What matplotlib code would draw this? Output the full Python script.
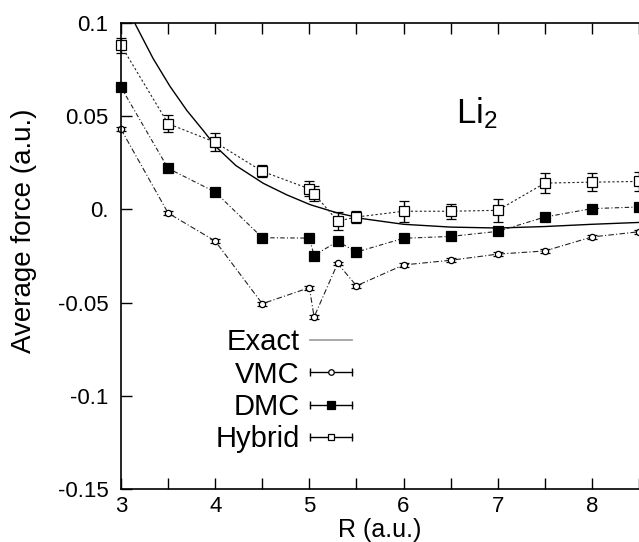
import numpy as np
import matplotlib
matplotlib.use('Agg')
import matplotlib.pyplot as plt
from matplotlib.lines import Line2D
from matplotlib.legend_handler import HandlerLine2D, HandlerTuple

plt.rcParams['font.family'] = ['Liberation Sans', 'DejaVu Sans']
plt.rcParams['mathtext.fontset'] = 'custom'
plt.rcParams['mathtext.rm'] = 'Liberation Sans'
plt.rcParams['mathtext.it'] = 'Liberation Sans:italic'

# separations (a.u.)
r_pts = [3.0, 3.5, 4.0, 4.5, 5.0, 5.05, 5.3, 5.5, 6.0, 6.5, 7.0, 7.5, 8.0, 8.5]

vmc = [0.043, -0.002, -0.017, -0.0506, -0.042, -0.0577, -0.029, -0.041,
       -0.0298, -0.0273, -0.024, -0.0223, -0.0148, -0.012]
vmc_err = [0.001] * len(r_pts)

dmc = [0.0655, 0.022, 0.0093, -0.0152, -0.0154, -0.0248, -0.0171, -0.0229,
       -0.0155, -0.0145, -0.0118, -0.0041, 0.0004, 0.0013]
dmc_err = [0.0018, 0.0015, 0.0018, 0.0015, 0.0018, 0.0018, 0.0018, 0.0015,
           0.0018, 0.0015, 0.0018, 0.002, 0.0018, 0.0018]

hyb = [0.088, 0.046, 0.036, 0.0204, 0.011, 0.0084, -0.0063, -0.0041,
       -0.001, -0.001, -0.0005, 0.0141, 0.0146, 0.015]
hyb_err = [0.004, 0.0045, 0.0048, 0.0032, 0.004, 0.004, 0.005, 0.003,
           0.0055, 0.004, 0.006, 0.0055, 0.005, 0.005]

# exact force curve
r_exact = [3.0, 3.15, 3.34, 3.52, 3.70, 3.87, 4.01, 4.22, 4.51, 4.76, 5.01,
           5.29, 5.57, 6.0, 6.5, 7.0, 7.5, 8.0, 8.5]
f_exact = [0.117, 0.0995, 0.081, 0.066, 0.053, 0.0425, 0.0335, 0.0235,
           0.0140, 0.0078, 0.0025, -0.0018, -0.0050, -0.0080, -0.0095,
           -0.0100, -0.0092, -0.0080, -0.0070]

y_ticks = [0.1, 0.05, 0.0, -0.05, -0.1, -0.15]
y_labels = ['0.1', '0.05', '0.', '-0.05', '-0.1', '-0.15']

fig = plt.figure(figsize=(6.39, 5.42), dpi=100)
ax = fig.add_axes([0.1894, 0.0978, 0.8106, 0.8598])

ax.plot(r_exact, f_exact, color='black', lw=1.0)

common = dict(color='#222222', ecolor='black', elinewidth=1.0, capsize=3.5,
              capthick=1.0, lw=0.8, clip_on=False, markeredgewidth=0.9,
              mec='black')
ax.errorbar(r_pts, vmc, yerr=vmc_err, marker='o', ms=4.5, mfc='white',
            dashes=(5, 2, 1, 2), **common)
ax.errorbar(r_pts, dmc, yerr=dmc_err, marker='s', ms=6.5, mfc='black',
            dashes=(4, 2, 1, 2), **common)
ax.errorbar(r_pts, hyb, yerr=hyb_err, marker='s', ms=7, mfc='white',
            dashes=(2, 2), **common)

ax.set_xlim(3, 8.5)
ax.set_ylim(-0.15, 0.1)
xt = np.arange(3, 8.51, 0.5)
ax.set_xticks(xt)
ax.set_xticklabels([('%d' % t if t == int(t) else '') for t in xt])
ax.set_yticks(y_ticks)
ax.set_yticklabels(y_labels)
ax.tick_params(direction='in', length=8, width=1.0, labelsize=16,
               top=True, right=False)
ax.tick_params(axis='y', pad=9)
ax.tick_params(axis='x', pad=5)
ax.spines['right'].set_visible(False)
for s in ['left', 'bottom', 'top']:
    ax.spines[s].set_linewidth(1.2)

ax.set_xlabel('R (a.u.)', fontsize=18, labelpad=1)
ax.set_ylabel('Average force (a.u.)', fontsize=20)
ax.yaxis.set_label_coords(-0.163, 0.554)

ax.text(6.556, 0.046, 'Li$_2$', fontsize=25, ha='left', va='baseline')

# legend, gnuplot style: label on the left, sample with end caps on the right
hmap = {}
handles = [Line2D([], [], color='#999999', lw=1.2)]
for m, fc, ms in [('o', 'white', 4), ('s', 'black', 5.5), ('s', 'white', 5)]:
    cap = Line2D([], [], color='black', lw=1.0, marker='|', ms=6, mew=1.0)
    mk = Line2D([], [], color='black', lw=0, marker=m, ms=ms, mfc=fc, mew=0.9)
    hmap[cap] = HandlerLine2D(numpoints=2, marker_pad=0)
    hmap[mk] = HandlerLine2D(numpoints=1)
    handles.append((cap, mk))
hmap[tuple] = HandlerTuple(ndivide=1, pad=0)
leg = ax.legend(handles, ['Exact', 'VMC', 'DMC', 'Hybrid'], loc='upper right',
                bbox_to_anchor=(0.446, 0.345), frameon=False, fontsize=21,
                markerfirst=False, handlelength=1.45, handletextpad=0.35,
                labelspacing=0.15, borderpad=0, borderaxespad=0,
                handler_map=hmap)

fig.savefig('out.png', dpi=100)
